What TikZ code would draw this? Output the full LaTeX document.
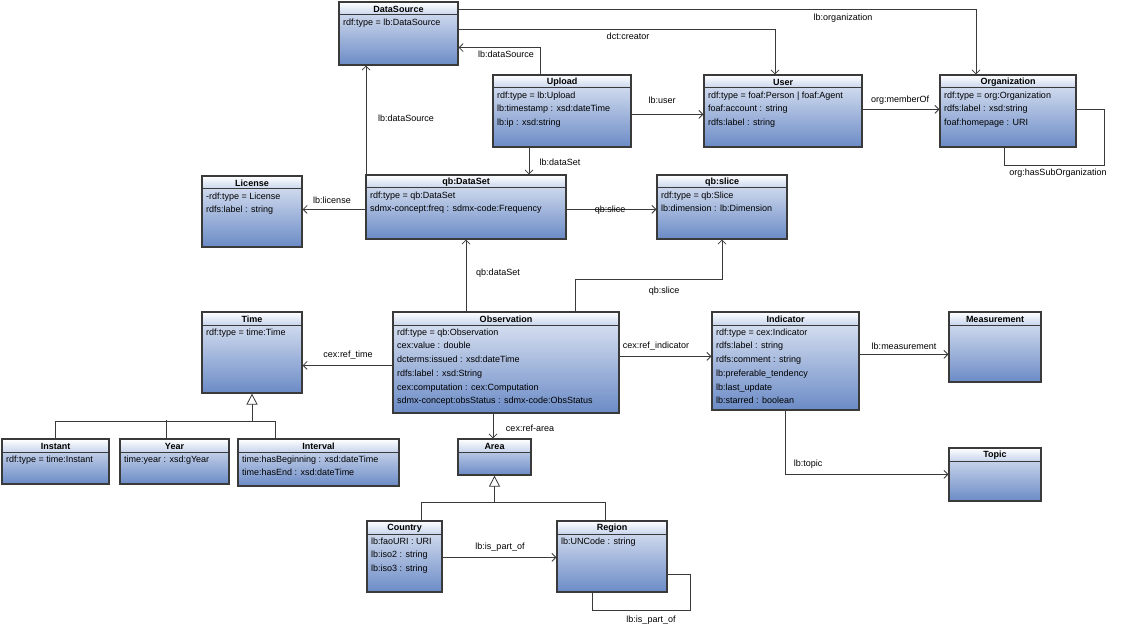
\documentclass[tikz,border=0pt]{standalone}
\usepackage{fontspec}
\setmainfont{Liberation Sans}
\usetikzlibrary{arrows.meta,fit}
\definecolor{bodytop}{HTML}{E3E9F5}
\definecolor{bodybot}{HTML}{6B8BC6}
\definecolor{headbot}{HTML}{C8D5EC}
\definecolor{edge}{HTML}{3A3A3A}
\tikzset{
  lbl/.style={font=\fontsize{9}{11}\selectfont, inner sep=1pt},
  arr/.style={draw=edge, line width=0.8pt, -{Straight Barb[length=4pt,width=8pt]}},
  ln/.style={draw=edge, line width=0.8pt},
  gen/.style={draw=edge, line width=0.8pt, -{Triangle[open,length=11pt,width=11pt,fill=white]}},
}
\newcommand\umlbox[7]{%
  \shade[top color=bodytop, bottom color=bodybot] (#2,#3) rectangle (#4,#5);
  \shade[top color=white, bottom color=headbot] (#2,#3) rectangle (#4,{#3+13});
  \draw[edge, line width=1pt] (#2,{#3+13}) -- (#4,{#3+13});
  \node[draw=edge, line width=1.2pt, inner sep=0pt, fit={(#2,#3) (#4,#5)}] (#1) {};
  \node[font=\fontsize{9}{11}\selectfont\bfseries, inner sep=0pt, anchor=center] at ({(#2+#4)/2},{#3+7}) {#6};
  \node[font=\fontsize{9}{13.7}\selectfont, align=left, inner sep=0pt, anchor=north west] at ({#2+4},{#3+16.5}) {#7};
}
\begin{document}
\begin{tikzpicture}[x=1pt,y=-1pt]
\useasboundingbox[fill=white] (0,0) rectangle (1124,631);
\umlbox{ds}{339}{2}{458}{65}{DataSource}{rdf:type = lb:DataSource}
\umlbox{up}{493}{75}{631}{147}{Upload}{rdf:type = lb:Upload\\lb:timestamp : xsd:dateTime\\lb:ip : xsd:string}
\umlbox{user}{704}{75}{862}{147}{User}{rdf:type = foaf:Person | foaf:Agent\\foaf:account : string\\rdfs:label : string}
\umlbox{org}{940}{75}{1076}{147}{Organization}{rdf:type = org:Organization\\rdfs:label : xsd:string\\foaf:homepage : URI}
\umlbox{lic}{202}{176}{302}{247}{License}{-rdf:type = License\\rdfs:label : string}
\umlbox{dset}{366}{175}{566}{239}{qb:DataSet}{rdf:type = qb:DataSet\\sdmx-concept:freq : sdmx-code:Frequency}
\umlbox{slice}{657}{175}{787}{239}{qb:slice}{rdf:type = qb:Slice\\lb:dimension : lb:Dimension}
\umlbox{time}{202}{312}{302}{393}{Time}{rdf:type = time:Time}
\umlbox{obs}{393}{312}{619}{413}{Observation}{rdf:type = qb:Observation\\cex:value : double\\dcterms:issued : xsd:dateTime\\rdfs:label : xsd:String\\cex:computation : cex:Computation\\sdmx-concept:obsStatus : sdmx-code:ObsStatus}
\umlbox{ind}{712}{312}{859}{410}{Indicator}{rdf:type = cex:Indicator\\rdfs:label : string\\rdfs:comment : string\\lb:preferable\_tendency\\lb:last\_update\\lb:starred : boolean}
\umlbox{meas}{949}{312}{1041}{382}{Measurement}{}
\umlbox{topic}{949}{448}{1041}{501}{Topic}{}
\umlbox{inst}{2}{439}{109}{484}{Instant}{rdf:type = time:Instant}
\umlbox{year}{120}{439}{229}{484}{Year}{time:year : xsd:gYear}
\umlbox{intv}{238}{439}{399}{486}{Interval}{time:hasBeginning : xsd:dateTime\\time:hasEnd : xsd:dateTime}
\umlbox{area}{458}{439}{531}{475}{Area}{}
\umlbox{cty}{367}{521}{442}{592}{Country}{lb:faoURI : URI\\lb:iso2 : string\\lb:iso3 : string}
\umlbox{reg}{557}{521}{667}{592}{Region}{lb:UNCode : string}

\draw[arr] ([yshift=-8pt]ds.north east) -| ([xshift=-32pt]org.north);
\node[lbl] (l1) at (843,18) {lb:organization};
\draw[arr] ([yshift=-28pt]ds.north east) -| ([xshift=-8pt]user.north);
\node[lbl] (l2) at (628,36) {dct:creator};
\draw[arr] ([xshift=-22pt]up.north) |- ([yshift=18pt]ds.south east);
\node[lbl] (l3) at (506,54) {lb:dataSource};
\draw[arr] ([yshift=-40pt]up.north east) -- ([yshift=-40pt]user.north west);
\node[lbl] (l4) at (662,100) {lb:user};
\draw[arr] ([yshift=-35pt]user.north east) -- ([yshift=-35pt]org.north west);
\node[lbl] (l5) at (900,100) {org:memberOf};
\draw[ln] ([yshift=-35pt]org.north east) -- ++(28,0) |- ([xshift=-4pt,yshift=-18pt]org.south) -- ([xshift=-4pt]org.south);
\node[lbl] (l6) at (1058,173) {org:hasSubOrganization};
\draw[arr] ([xshift=-33pt]up.south) -- ([xshift=-33pt]up.south |- dset.north);
\node[lbl] (l7) at (560,162) {lb:dataSet};
\draw[arr] ([xshift=0.6pt]dset.north west) -- ([xshift=0.6pt]dset.north west |- ds.south);
\node[lbl] (l8) at (406,118) {lb:dataSource};
\draw[arr] ([yshift=-35pt]dset.north west) -- ([yshift=-34pt]lic.north east);
\node[lbl] (l9) at (332,200) {lb:license};
\draw[arr] ([yshift=-35pt]dset.north east) -- ([yshift=-35pt]slice.north west);
\node[lbl] (l10) at (610,210) {qb:slice};
\draw[arr] ([xshift=-40pt]obs.north) -- ([xshift=-40pt]obs.north |- dset.south);
\node[lbl] (l11) at (498,273) {qb:dataSet};
\draw[arr] ([xshift=69pt]obs.north) -- ++(0,-32) -| (slice.south);
\node[lbl] (l12) at (664,291) {qb:slice};
\draw[arr] ([yshift=-54pt]obs.north west) -- ([yshift=-54pt]time.north east);
\node[lbl] (l13) at (348,355) {cex:ref\_time};
\draw[arr] ([yshift=-45pt]obs.north east) -- ([yshift=-45pt]ind.north west);
\node[lbl] (l14) at (656,346) {cex:ref\_indicator};
\draw[arr] ([xshift=-13pt]obs.south) -- ([xshift=-13pt]obs.south |- area.north);
\node[lbl] (l15) at (530,428) {cex:ref-area};
\draw[arr] ([yshift=-43pt]ind.north east) -- ([yshift=-43pt]meas.north west);
\node[lbl] (l16) at (904,346) {lb:measurement};
\draw[arr] (ind.south) |- ([yshift=-27pt]topic.north west);
\node[lbl] (l17) at (808,464) {lb:topic};

\draw[ln] (inst.north) |- ([yshift=-28pt]time.south) -| ([xshift=-43pt]intv.north);
\draw[ln] ([xshift=-8pt]year.north) -- ++(0,-18);
\draw[gen] ([yshift=-28pt]time.south) -- (time.south);

\draw[ln] ([xshift=16.5pt]cty.north) |- ([yshift=-27pt]area.south) -| ([xshift=-7pt]reg.north);
\draw[gen] ([yshift=-27pt]area.south) -- (area.south);

\draw[arr] ([yshift=-37pt]cty.north east) -- ([yshift=-37pt]reg.north west);
\node[lbl] (l18) at (500,547) {lb:is\_part\_of};
\draw[ln] ([yshift=-54pt]reg.north east) -- ++(23,0) |- ([xshift=-20pt,yshift=-18pt]reg.south) -- ([xshift=-20pt]reg.south);
\node[lbl] (l19) at (651,620) {lb:is\_part\_of};
\end{tikzpicture}
\end{document}
